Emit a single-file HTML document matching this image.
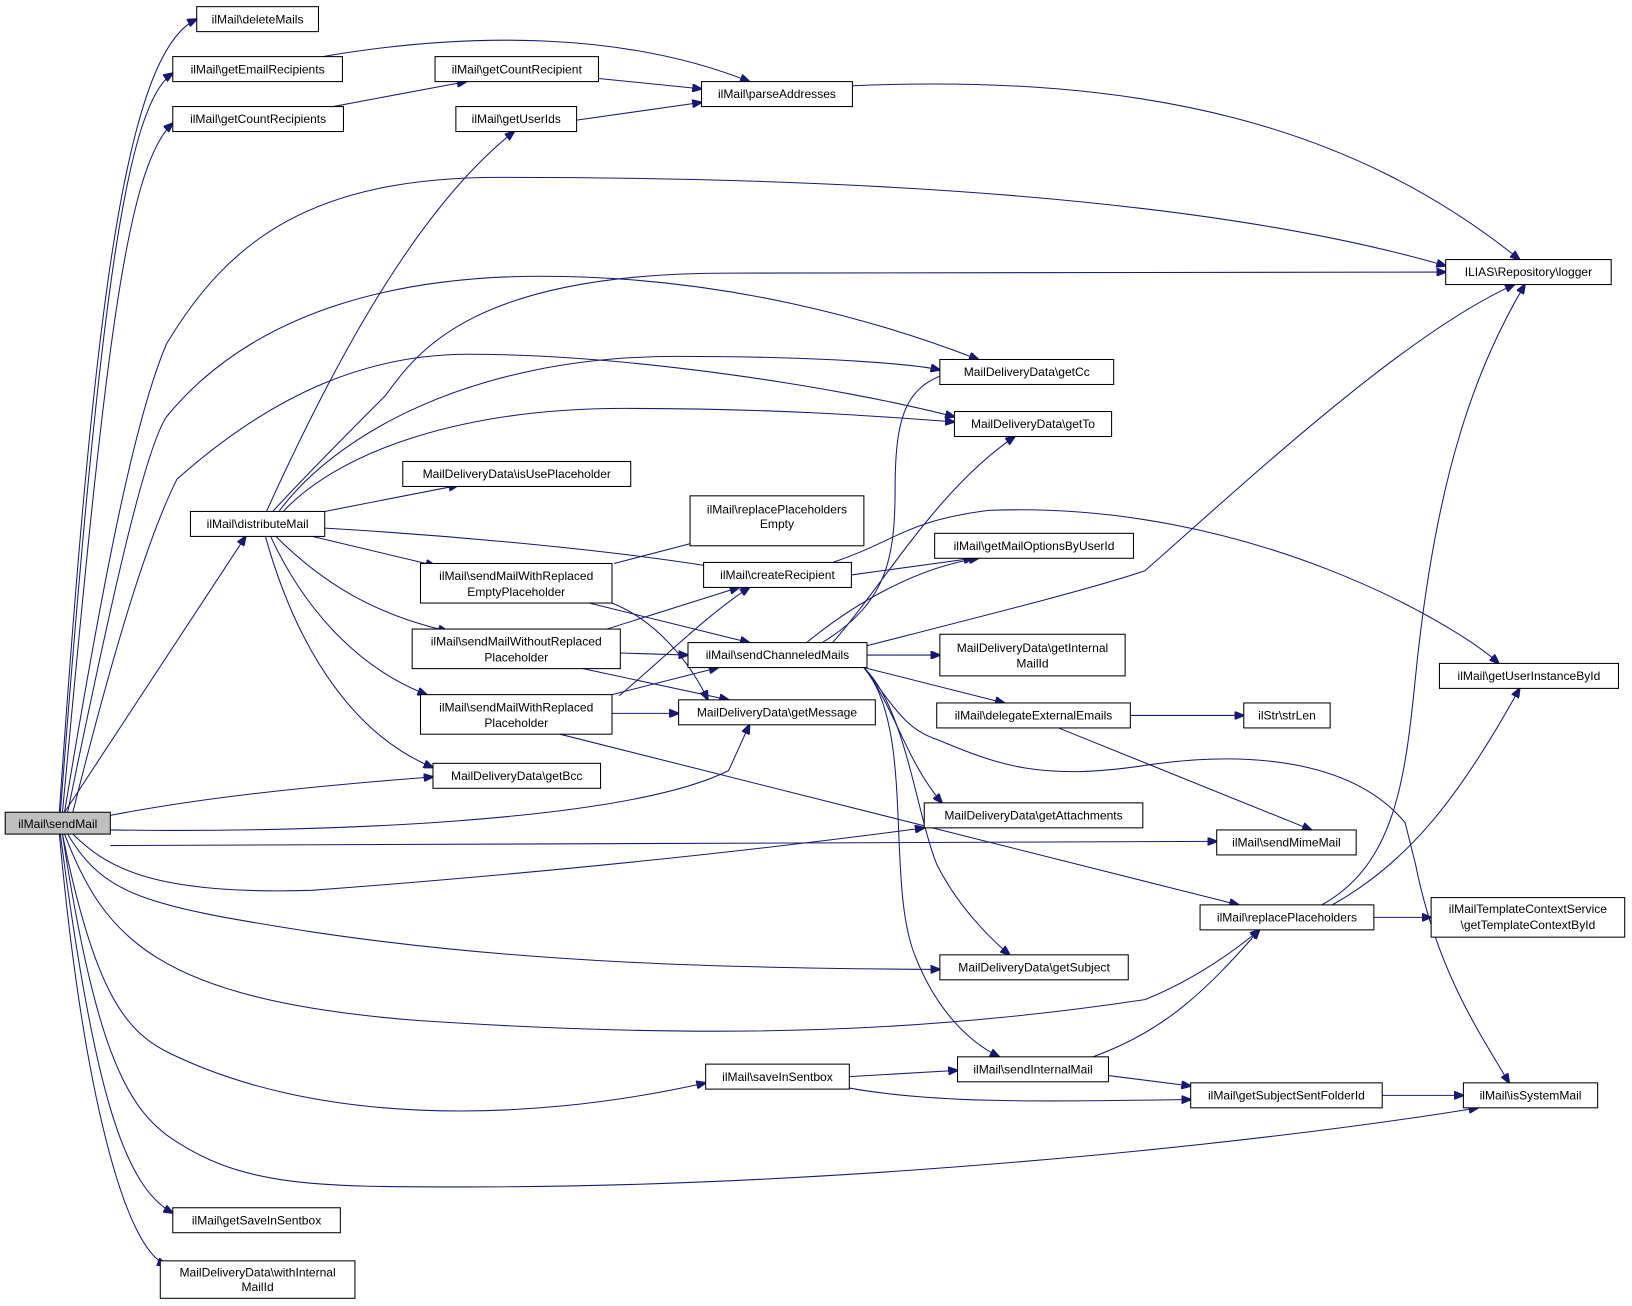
<!DOCTYPE html>
<html><head><meta charset="utf-8"><style>
html,body{margin:0;padding:0;background:#fff;}
svg{display:block}
text{font-family:"Liberation Sans",Arial,sans-serif;font-size:11.6px;fill:#000;text-anchor:middle}
rect{fill:#fff;stroke:#000;stroke-width:1}
path{fill:none;stroke:#191970;stroke-width:1}
</style></head><body>
<svg width="1632" height="1306" viewBox="0 0 1568 1254" xmlns="http://www.w3.org/2000/svg">
<defs><marker id="a" markerWidth="10" markerHeight="8" refX="9" refY="4" orient="auto" markerUnits="userSpaceOnUse"><polygon points="0,0 10,4 0,8" fill="#191970" stroke="#191970"/></marker></defs>
<g marker-end="url(#a)">
<path d="M57,780 C90,300 120,50 189,18"/>
<path d="M58,780 C95,300 120,100 166,70"/>
<path d="M60,780 C100,350 120,160 166,118"/>
<path d="M62,780 C100,550 130,400 160,330 C220,230 300,170 480,170 C900,170 1200,200 1389,255"/>
<path d="M65,780 C110,560 140,430 160,400 C250,290 400,265 520,265 C700,265 850,310 940,345"/>
<path d="M70,780 C120,580 150,500 170,460 C260,380 350,340 450,340 C600,340 800,370 917,400"/>
<path d="M62,780 L236,515"/>
<path d="M106,783 C200,765 300,755 416,746"/>
<path d="M106,797 C300,800 600,790 700,740 L720,696"/>
<path d="M106,812 L1169,808"/>
<path d="M70,801 C100,830 140,860 300,855 C500,840 700,820 888,795"/>
<path d="M65,801 C100,860 140,870 300,895 C500,925 700,930 903,931"/>
<path d="M62,801 C100,900 150,960 400,980 C700,1000 900,990 1100,960 C1150,940 1190,910 1210,893"/>
<path d="M60,801 C90,950 120,990 160,1010 C300,1080 500,1080 678,1040"/>
<path d="M60,801 C90,1000 120,1060 160,1090 C230,1140 300,1140 450,1140 C800,1140 1200,1100 1420,1064"/>
<path d="M58,801 C90,1050 120,1140 166,1165"/>
<path d="M57,801 C80,1050 120,1200 160,1215"/>
<path d="M256,491 C320,350 400,200 494,126"/>
<path d="M262,491 C300,450 340,410 370,380 C400,340 450,262 700,262 L1389,261"/>
<path d="M268,491 C320,420 450,342 650,342 C800,342 880,350 903,355"/>
<path d="M272,491 C330,430 450,392 600,392 C750,392 850,400 917,405"/>
<path d="M312,491 L440,466"/>
<path d="M312,507 C450,515 600,530 690,545"/>
<path d="M300,515 L418,543"/>
<path d="M265,515 C310,560 360,590 430,606"/>
<path d="M260,515 C290,580 340,640 410,667"/>
<path d="M255,515 C290,640 350,710 416,737"/>
<path d="M310,54 C450,30 600,30 720,78"/>
<path d="M320,102 L448,78"/>
<path d="M575,75 L674,85"/>
<path d="M554,115 L674,98"/>
<path d="M819,82 C1100,70 1300,120 1460,249"/>
<path d="M590,541 L690,515"/>
<path d="M566,579 L720,617"/>
<path d="M588,579 C640,600 670,650 680,672"/>
<path d="M583,604 L710,564"/>
<path d="M596,627 L661,629"/>
<path d="M560,642 L700,672"/>
<path d="M595,668 C640,630 680,590 720,564"/>
<path d="M588,667 L690,641"/>
<path d="M588,685 L652,685"/>
<path d="M538,705 L1190,869"/>
<path d="M818,552 L935,536"/>
<path d="M800,540 C860,520 870,500 950,490 C1200,480 1400,600 1440,637"/>
<path d="M790,617 C850,580 860,540 860,470 C860,400 870,370 912,358"/>
<path d="M800,617 C850,560 900,470 975,419"/>
<path d="M775,617 C820,580 880,545 940,536"/>
<path d="M833,620 C950,590 1050,565 1100,548 C1200,460 1350,320 1455,273"/>
<path d="M833,629 L903,629"/>
<path d="M830,641 L965,675"/>
<path d="M830,641 C860,680 870,700 900,710 C960,735 1000,750 1100,735 C1200,720 1300,730 1350,790 L1360,830 C1380,930 1420,990 1450,1040"/>
<path d="M830,641 C860,680 870,730 905,771"/>
<path d="M830,641 C870,680 880,780 900,830 C920,870 950,900 970,917"/>
<path d="M830,641 C880,700 850,850 880,920 C900,970 930,1000 960,1015"/>
<path d="M1086,687 L1195,687"/>
<path d="M1017,699 L1260,797"/>
<path d="M1270,869 C1340,830 1350,750 1360,650 C1380,450 1420,350 1465,273"/>
<path d="M1280,869 C1350,830 1400,770 1460,661"/>
<path d="M1320,881 L1375,881"/>
<path d="M816,1034 L920,1028"/>
<path d="M816,1045 C900,1060 1000,1058 1144,1056"/>
<path d="M1050,1015 C1120,990 1160,950 1210,893"/>
<path d="M1065,1033 L1144,1043"/>
<path d="M1328,1052 L1406,1052"/>
</g>
<rect x="5" y="780" width="101" height="21" style="fill:#bfbfbf"/><text x="55.5" y="795">ilMail\sendMail</text>
<rect x="189" y="6" width="117" height="24"/><text x="247.5" y="22">ilMail\deleteMails</text>
<rect x="166" y="54" width="163" height="24"/><text x="247.5" y="70">ilMail\getEmailRecipients</text>
<rect x="166" y="102" width="164" height="24"/><text x="248" y="118">ilMail\getCountRecipients</text>
<rect x="418" y="54" width="157" height="24"/><text x="496.5" y="70">ilMail\getCountRecipient</text>
<rect x="438" y="102" width="116" height="24"/><text x="496" y="118">ilMail\getUserIds</text>
<rect x="674" y="78" width="145" height="24"/><text x="746.5" y="94">ilMail\parseAddresses</text>
<rect x="1389" y="249" width="159" height="24"/><text x="1468.5" y="265">ILIAS\Repository\logger</text>
<rect x="903" y="345" width="167" height="24"/><text x="986.5" y="361">MailDeliveryData\getCc</text>
<rect x="917" y="395" width="151" height="24"/><text x="992.5" y="411">MailDeliveryData\getTo</text>
<rect x="387" y="443" width="219" height="24"/><text x="496.5" y="459">MailDeliveryData\isUsePlaceholder</text>
<rect x="183" y="491" width="129" height="24"/><text x="247.5" y="507">ilMail\distributeMail</text>
<rect x="663" y="476" width="167" height="48"/><text x="746.5" y="493">ilMail\replacePlaceholders</text><text x="746.5" y="507">Empty</text>
<rect x="676" y="540" width="142" height="24"/><text x="747" y="556">ilMail\createRecipient</text>
<rect x="898" y="512" width="191" height="24"/><text x="993.5" y="528">ilMail\getMailOptionsByUserId</text>
<rect x="404" y="541" width="184" height="38"/><text x="496" y="557">ilMail\sendMailWithReplaced</text><text x="496" y="572">EmptyPlaceholder</text>
<rect x="396" y="604" width="200" height="38"/><text x="496" y="620">ilMail\sendMailWithoutReplaced</text><text x="496" y="635">Placeholder</text>
<rect x="661" y="617" width="172" height="24"/><text x="747" y="633">ilMail\sendChanneledMails</text>
<rect x="903" y="609" width="178" height="40"/><text x="992" y="626">MailDeliveryData\getInternal</text><text x="992" y="641">MailId</text>
<rect x="1383" y="637" width="172" height="24"/><text x="1469" y="653">ilMail\getUserInstanceById</text>
<rect x="404" y="667" width="184" height="38"/><text x="496" y="683">ilMail\sendMailWithReplaced</text><text x="496" y="698">Placeholder</text>
<rect x="652" y="672" width="189" height="24"/><text x="746.5" y="688">MailDeliveryData\getMessage</text>
<rect x="900" y="675" width="186" height="24"/><text x="993" y="691">ilMail\delegateExternalEmails</text>
<rect x="1195" y="675" width="83" height="24"/><text x="1236.5" y="691">ilStr\strLen</text>
<rect x="416" y="733" width="161" height="24"/><text x="496.5" y="749">MailDeliveryData\getBcc</text>
<rect x="888" y="771" width="210" height="24"/><text x="993" y="787">MailDeliveryData\getAttachments</text>
<rect x="1169" y="797" width="134" height="24"/><text x="1236" y="813">ilMail\sendMimeMail</text>
<rect x="1153" y="869" width="167" height="24"/><text x="1236.5" y="885">ilMail\replacePlaceholders</text>
<rect x="1375" y="862" width="186" height="38"/><text x="1468" y="877">ilMailTemplateContextService</text><text x="1468" y="892">\getTemplateContextById</text>
<rect x="903" y="917" width="181" height="24"/><text x="993.5" y="933">MailDeliveryData\getSubject</text>
<rect x="678" y="1022" width="138" height="24"/><text x="747" y="1038">ilMail\saveInSentbox</text>
<rect x="920" y="1015" width="145" height="24"/><text x="992.5" y="1031">ilMail\sendInternalMail</text>
<rect x="1144" y="1040" width="184" height="24"/><text x="1236" y="1056">ilMail\getSubjectSentFolderId</text>
<rect x="1406" y="1040" width="129" height="24"/><text x="1470.5" y="1056">ilMail\isSystemMail</text>
<rect x="166" y="1160" width="161" height="24"/><text x="246.5" y="1176">ilMail\getSaveInSentbox</text>
<rect x="154" y="1211" width="187" height="36"/><text x="247.5" y="1226">MailDeliveryData\withInternal</text><text x="247.5" y="1240">MailId</text>
</svg>
</body></html>
